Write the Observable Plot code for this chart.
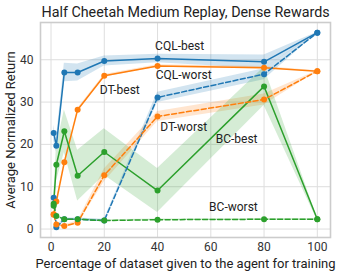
<!DOCTYPE html>
<html><head><meta charset="utf-8">
<script src="https://cdn.jsdelivr.net/npm/d3@7"></script>
<script src="https://cdn.jsdelivr.net/npm/@observablehq/plot@0.6"></script>
<style>html,body{margin:0;padding:0;background:#fff}</style>
</head><body><div id="chart"></div>
<script>
const titleText = "Half Cheetah Medium Replay, Dense Rewards";
const xLabel = "Percentage of dataset given to the agent for training";
const yLabel = "Average Normalized Return";
const xTicks = [0, 20, 40, 60, 80, 100];
const yTicks = [0, 10, 20, 30, 40];
const percentages = [1, 2, 5, 10, 20, 40, 80, 100];

const cqlBest     = [22.7, 19.7, 37.0, 37.0, 39.7, 40.3, 39.5, 46.4];
const cqlBestErr  = [1.8, 1.5, 2.2, 2.0, 1.2, 1.0, 1.6, 0.1];
const cqlWorst    = [7.4, 0.4, 2.3, 2.3, 2.0, 31.1, 36.6, 46.4];
const cqlWorstErr = [0.4, 0.3, 0.3, 0.3, 0.3, 1.2, 1.3, 0.1];
const dtBest      = [3.5, 6.5, 15.8, 28.2, 36.2, 38.5, 38.1, 37.3];
const dtBestErr   = [0.3, 0.3, 0.3, 0.3, 0.3, 0.3, 0.3, 0.1];
const dtWorst     = [3.4, 1.1, 0.7, 1.5, 12.7, 26.6, 30.6, 37.3];
const dtWorstErr  = [0.3, 0.3, 0.3, 0.4, 1.5, 1.2, 1.3, 0.1];
const bcBest      = [6.0, 15.2, 23.1, 12.6, 18.2, 9.1, 33.7, 2.3];
const bcBestErr   = [1.5, 4.0, 5.0, 6.0, 5.5, 5.2, 4.5, 0.3];
const bcWorst     = [5.5, 3.1, 2.3, 2.3, 2.0, 2.2, 2.3, 2.3];
const bcWorstErr  = [0.3, 0.3, 0.2, 0.2, 0.2, 0.2, 0.2, 0.2];

const algos = ["CQL", "DT", "BC"];
const algoColors = ["#1f77b4", "#ff7f0e", "#2ca02c"];

const series = [
  {algo: "CQL", kind: "best", values: cqlBest, err: cqlBestErr},
  {algo: "CQL", kind: "worst", values: cqlWorst, err: cqlWorstErr},
  {algo: "DT", kind: "best", values: dtBest, err: dtBestErr},
  {algo: "DT", kind: "worst", values: dtWorst, err: dtWorstErr},
  {algo: "BC", kind: "best", values: bcBest, err: bcBestErr},
  {algo: "BC", kind: "worst", values: bcWorst, err: bcWorstErr}
];

const labelNames = ["CQL-best", "CQL-worst", "DT-best", "DT-worst", "BC-best", "BC-worst"];
const labelX = [48.3, 49.8, 25.8, 49.8, 69.7, 68.5];
const labelY = [43.1, 36.3, 32.9, 24.0, 21.2, 5.1];
const labels = labelNames.map((t, i) => ({text: t, x: labelX[i], y: labelY[i]}));

const rows = series.flatMap(s => percentages.map((p, i) => ({
  x: p, y: s.values[i], lo: s.values[i] - s.err[i], hi: s.values[i] + s.err[i],
  algo: s.algo, kind: s.kind, key: s.algo + "-" + s.kind
})));
const best = rows.filter(d => d.kind === "best");
const worst = rows.filter(d => d.kind === "worst");

const chart = Plot.plot({
  width: 338, height: 276,
  marginLeft: 40, marginRight: 8, marginTop: 22, marginBottom: 39,
  style: {fontFamily: "Roboto, 'DejaVu Sans', sans-serif", background: "#fff", overflow: "visible"},
  x: {domain: [-3.95, 104.95]},
  y: {domain: [-2.0, 48.8]},
  color: {domain: algos, range: algoColors},
  marks: [
    Plot.gridX(xTicks, {stroke: "#dedede", strokeOpacity: 1, strokeWidth: 1}),
    Plot.gridY(yTicks, {stroke: "#dedede", strokeOpacity: 1, strokeWidth: 1}),
    Plot.frame({stroke: "#cccccc", strokeWidth: 1.6}),
    Plot.axisX(xTicks, {tickSize: 0, tickPadding: 5, fontSize: 12, fill: "#333", label: null}),
    Plot.axisY(yTicks, {tickSize: 0, tickPadding: 7, fontSize: 12, fill: "#333", label: null}),
    Plot.areaY(rows, {x: "x", y1: "lo", y2: "hi", z: "key", fill: "algo", fillOpacity: 0.2}),
    Plot.line(best, {x: "x", y: "y", z: "key", stroke: "algo", strokeWidth: 1.5}),
    Plot.line(worst, {x: "x", y: "y", z: "key", stroke: "algo", strokeWidth: 1.5, strokeDasharray: "5,2.5"}),
    Plot.dot(rows, {x: "x", y: "y", fill: "algo", r: 3}),
    Plot.text(labels, {x: "x", y: "y", text: "text", fontSize: 12, fill: "#222"}),
    Plot.text([titleText], {frameAnchor: "top", dy: -10, lineAnchor: "middle", fontSize: 14.3, fill: "#222"}),
    Plot.text([xLabel], {frameAnchor: "bottom", dy: 26, lineAnchor: "middle", fontSize: 13, fill: "#222"}),
    Plot.text([yLabel], {frameAnchor: "left", dx: -30, rotate: -90, textAnchor: "middle", lineAnchor: "middle", fontSize: 13, fill: "#222"})
  ]
});
document.getElementById("chart").appendChild(chart);
</script>
</body></html>
